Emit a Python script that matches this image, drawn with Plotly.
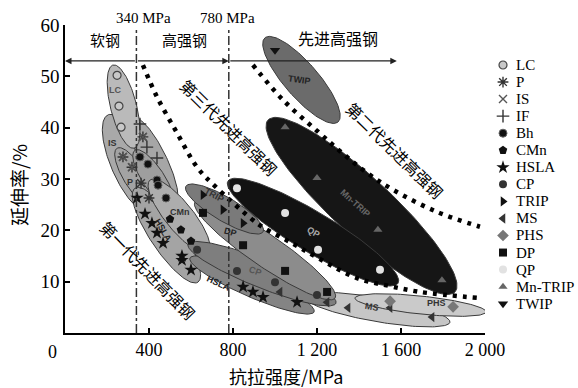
import numpy as np
import plotly.graph_objects as go

# ---------------- data (tensile strength MPa, elongation %) ----------------
lc_x = [248, 257, 267];                 lc_y = [50.2, 44.2, 40.1]
p_x = [276, 319, 362, 400, 371];        p_y = [34.3, 32.3, 29.2, 26.3, 38.2]
is_x = [276, 319, 371];                 is_y = [34.3, 32.3, 38.2]
if_x = [357, 390, 438];                 if_y = [40.7, 36.2, 34.1]
bh_x = [357, 395, 438, 443, 481];       bh_y = [34.3, 32.9, 29.8, 28.8, 26.3]
cmn_x = [500, 552, 600];                cmn_y = [22.2, 20.1, 17.9]
hsla_x = [343, 381, 414, 438, 467, 557, 557, 600, 848, 895, 943, 1105]
hsla_y = [26.3, 23.2, 21.4, 19.5, 17.5, 15.0, 14.2, 12.3, 9.0, 8.0, 7.0, 6.0]
cp_x = [629, 819, 1000, 1200];          cp_y = [16.2, 12.1, 9.9, 7.4]
trip_x = [657, 752, 848];               trip_y = [26.9, 24.0, 21.4]
ms_x = [1024, 1248, 1348, 1548, 1748];  ms_y = [8.0, 6.0, 4.9, 4.9, 3.1]
phs_x = [1548, 1848];                   phs_y = [6.2, 5.1]
dp_x = [657, 848, 1048, 1248];          dp_y = [23.4, 17.1, 12.1, 8.0]
qp_x = [819, 1048, 1205, 1500];         qp_y = [28.2, 23.4, 16.2, 12.3]
mntrip_x = [1048, 1200, 1490, 1795];    mntrip_y = [40.1, 30.2, 20.1, 10.3]
twip_x = [1000];                        twip_y = [55.1]

series_names = ["LC", "P", "IS", "IF", "Bh", "CMn", "HSLA", "CP", "TRIP",
                "MS", "PHS", "DP", "QP", "Mn-TRIP", "TWIP"]

# property envelopes (ellipses): major-axis tips in data units
region_names = ["IS", "P", "IF", "Bh", "HSLA", "CMn", "LC", "MS", "PHS",
                "HSLA", "CP", "DP", "TRIP", "TWIP", "Mn-TRIP", "QP"]
region_x1 = [205, 248, 324, 333, 333, 405, 229, 1143, 1381, 595, 586, 619, 576, 952, 967, 776]
region_y1 = [42.5, 36.0, 41.9, 35.6, 28.2, 29.8, 52.2, 7.0, 6.8, 14.6, 17.3, 25.5, 28.6, 57.5, 41.5, 29.6]
region_x2 = [405, 414, 524, 510, 633, 681, 329, 1833, 2005, 1186, 1290, 1286, 943, 1300, 1857, 1586]
region_y2 = [23.6, 24.9, 24.9, 24.5, 9.9, 15.8, 36.0, 2.1, 4.1, 4.1, 5.8, 6.8, 19.7, 41.1, 8.0, 9.7]

# boundary curves of the steel generations
gen3_low_x = [371, 438, 533, 629, 714, 895, 943, 1081, 1205, 1390, 1540, 1690, 1980]
gen3_low_y = [52.2, 46.0, 39.0, 32.3, 28.6, 22.0, 20.6, 17.5, 14.6, 10.7, 9.2, 8.0, 6.8]
gen2_up_x = [895, 1038, 1205, 1319, 1438, 1562, 1771, 1976]
gen2_up_y = [52.2, 45.4, 39.2, 35.1, 31.2, 27.9, 23.6, 20.7]

limits = [340, 780]
arrow_level = 53
arrow_end = 1580
x_ticks = [400, 800, 1200, 1600, 2000]
x_ticktext = ["400", "800", "1 200", "1 600", "2 000"]
y_ticks = [10, 20, 30, 40, 50, 60]

# ---------------- layout constants ----------------
W, H = 578, 388
PL, PR, PT, PB = 65, 485, 25, 333
XMAX, YMAX = 2000, 60
SERIF = "Liberation Serif, Noto Sans CJK SC"
CJK = "Noto Sans CJK SC, Liberation Serif"
kx = (PR - PL) / XMAX
ky = (PB - PT) / YMAX

region_hw = [18, 11, 13, 11, 16, 14, 13, 12, 9, 12, 14, 16, 12, 17, 29, 20]
region_fill = ["#a9a9a9", "#a3a3a3", "#a6a6a6", "#9e9e9e", "#a4a4a4", "#adadad",
               "#bababa", "#c6c6c6", "#cacaca", "#848484", "#7e7e7e", "#8c8c8c",
               "#7a7a7a", "#6b6b6b", "#161616", "#121212"]

styles = {
    "LC": dict(symbol="circle", size=8, color="#c8c8c8", line=dict(color="#444", width=1.2)),
    "P": dict(symbol="asterisk-open", size=9, color="#333", line=dict(color="#333", width=1.4)),
    "IS": dict(symbol="x-thin-open", size=8, color="#555", line=dict(color="#555", width=1.4)),
    "IF": dict(symbol="cross-thin-open", size=9, color="#333", line=dict(color="#333", width=1.4)),
    "Bh": dict(symbol="circle", size=8, color="#111", line=dict(color="#666", width=1)),
    "CMn": dict(symbol="pentagon", size=9, color="#111", line=dict(width=0)),
    "HSLA": dict(symbol="star", size=10, color="#111", line=dict(width=0)),
    "CP": dict(symbol="circle", size=8, color="#333", line=dict(width=0)),
    "TRIP": dict(symbol="triangle-right", size=9, color="#111", line=dict(width=0)),
    "MS": dict(symbol="triangle-left", size=9, color="#333", line=dict(width=0)),
    "PHS": dict(symbol="diamond", size=9, color="#777", line=dict(width=0)),
    "DP": dict(symbol="square", size=8, color="#111", line=dict(width=0)),
    "QP": dict(symbol="circle", size=8, color="#e2e2e2", line=dict(width=0)),
    "Mn-TRIP": dict(symbol="triangle-up", size=8, color="#666", line=dict(width=0)),
    "TWIP": dict(symbol="triangle-down", size=9, color="#111", line=dict(width=0)),
}
series_data = {
    "LC": (lc_x, lc_y), "P": (p_x, p_y), "IS": (is_x, is_y), "IF": (if_x, if_y),
    "Bh": (bh_x, bh_y), "CMn": (cmn_x, cmn_y), "HSLA": (hsla_x, hsla_y),
    "CP": (cp_x, cp_y), "TRIP": (trip_x, trip_y), "MS": (ms_x, ms_y),
    "PHS": (phs_x, phs_y), "DP": (dp_x, dp_y), "QP": (qp_x, qp_y),
    "Mn-TRIP": (mntrip_x, mntrip_y), "TWIP": (twip_x, twip_y),
}


def ellipse(x1, y1, x2, y2, hw, n=140):
    p1 = np.array([x1 * kx, y1 * ky])
    p2 = np.array([x2 * kx, y2 * ky])
    c = (p1 + p2) / 2
    d = p2 - p1
    a = np.linalg.norm(d) / 2
    u = d / np.linalg.norm(d)
    v = np.array([-u[1], u[0]])
    t = np.linspace(0, 2 * np.pi, n)
    pts = c[None, :] + np.outer(a * np.cos(t), u) + np.outer(hw * np.sin(t), v)
    return pts[:, 0] / kx, pts[:, 1] / ky


fig = go.Figure()

# ellipses
for i, name in enumerate(region_names):
    ex, ey = ellipse(region_x1[i], region_y1[i], region_x2[i], region_y2[i], region_hw[i])
    fig.add_trace(go.Scatter(x=ex, y=ey, mode="lines", fill="toself",
                             fillcolor=region_fill[i],
                             line=dict(color="#3a3a3a", width=1),
                             hoverinfo="skip", name=name, xaxis="x", yaxis="y"))

# generation boundary curves
for cx, cy in [(gen3_low_x, gen3_low_y), (gen2_up_x, gen2_up_y)]:
    fig.add_trace(go.Scatter(x=cx, y=cy, mode="lines",
                             line=dict(color="black", width=4.5, dash="4px,6px", shape="spline"),
                             hoverinfo="skip", xaxis="x", yaxis="y"))

# markers
for name in series_names:
    sx, sy = series_data[name]
    fig.add_trace(go.Scatter(x=sx, y=sy, mode="markers", marker=styles[name],
                             name=name, xaxis="x", yaxis="y", cliponaxis=False))

# custom legend (pixel overlay axis)
LEG_X, LEG_Y0, LEG_DY = 503, 65, 17.05
for i, name in enumerate(series_names):
    fig.add_trace(go.Scatter(x=[LEG_X], y=[LEG_Y0 + i * LEG_DY], mode="markers",
                             marker=styles[name], xaxis="x2", yaxis="y2",
                             hoverinfo="skip", cliponaxis=False))

ann = []


def ptxt(text, px, py, size=15, font=SERIF, angle=0, xanchor="center", color="black"):
    ann.append(dict(text=text, x=px / W, y=1 - py / H, xref="paper", yref="paper",
                    showarrow=False, xanchor=xanchor, yanchor="middle", textangle=angle,
                    font=dict(family=font, size=size, color=color)))


for i, name in enumerate(series_names):
    ptxt(name, 514, LEG_Y0 + i * LEG_DY, size=15, xanchor="left")

ptxt("340 MPa", 143, 18, size=15)
ptxt("780 MPa", 227, 18, size=15)
ptxt("软钢", 105, 40, size=15, font=CJK)
ptxt("高强钢", 184, 40, size=15, font=CJK)
ptxt("先进高强钢", 338, 38, size=16, font=CJK)
ptxt("第三代先进高强钢", 229, 127, size=16, font=CJK, angle=44.5)
ptxt("第二代先进高强钢", 395, 150, size=16, font=CJK, angle=44.5)
ptxt("第一代先进高强钢", 148, 270, size=16, font=CJK, angle=46)
ptxt("0", 52, 352, size=18)
ptxt("抗拉强度/MPa", 286, 376, size=18, font=CJK)
ptxt("延伸率/%", 18, 185, size=19, font=CJK, angle=-90)

# region labels (data coordinates)
region_labels = [("LC", 238, 47.3, 0, "#555"), ("IS", 224, 37.0, 0, "#333"),
                 ("P", 310, 29.4, 0, "#333"), ("CMn", 548, 23.6, 0, "#333"),
                 ("HSLA", 467, 20.1, 60, "#222"), ("TRIP", 710, 26.9, 28, "#333"),
                 ("DP", 786, 19.7, 15, "#222"), ("CP", 905, 12.1, 20, "#555"),
                 ("HSLA", 729, 9.7, 25, "#222"), ("QP", 1181, 19.7, 30, "#aaa"),
                 ("Mn-TRIP", 1381, 25.3, 42, "#666"), ("TWIP", 1119, 49.3, 8, "#222"),
                 ("MS", 1462, 5.1, 10, "#333"), ("PHS", 1771, 5.8, 0, "#333")]
for t, x, y, a, c in region_labels:
    ann.append(dict(text="<b>" + t + "</b>", x=x, y=y, xref="x", yref="y", showarrow=False,
                    textangle=a, font=dict(family="Liberation Sans, Arial", size=9, color=c)))

# arrows of the strength classes
for (xh, xt) in [(0, limits[0]), (limits[1], limits[0]), (arrow_end, limits[1])]:
    ann.append(dict(x=xh, y=arrow_level, ax=xt, ay=arrow_level, xref="x", yref="y",
                    axref="x", ayref="y", text="", showarrow=True, arrowhead=2,
                    arrowsize=1, arrowwidth=1.3, arrowcolor="#222", standoff=0))

shapes = []
for lim in limits:
    shapes.append(dict(type="line", x0=lim, x1=lim, y0=0, y1=59.4, xref="x", yref="y",
                       line=dict(color="#333", width=1.5, dash="dashdot")))

fig.update_layout(
    width=W, height=H, margin=dict(l=0, r=0, t=0, b=0, autoexpand=False),
    paper_bgcolor="white", plot_bgcolor="rgba(0,0,0,0)", showlegend=False,
    annotations=ann, shapes=shapes,
    xaxis=dict(domain=[PL / W, PR / W], range=[0, XMAX], anchor="y",
               tickvals=x_ticks, ticktext=x_ticktext, ticks="inside", ticklen=5,
               tickwidth=1.5, tickcolor="black", showline=True, linecolor="black",
               linewidth=1.5, showgrid=False, zeroline=False,
               tickfont=dict(family=SERIF, size=18, color="black")),
    yaxis=dict(domain=[1 - PB / H, 1 - PT / H], range=[0, YMAX], anchor="x",
               tickvals=y_ticks, ticks="inside", ticklen=5, tickwidth=1.5,
               tickcolor="black", showline=True, linecolor="black", linewidth=1.5,
               showgrid=False, zeroline=False,
               tickfont=dict(family=SERIF, size=19, color="black")),
    xaxis2=dict(domain=[0, 1], range=[0, W], visible=False, anchor="y2", fixedrange=True),
    yaxis2=dict(domain=[0, 1], range=[H, 0], visible=False, anchor="x2", fixedrange=True),
)

fig.write_html("out.html", config={"displayModeBar": False},
               post_script="document.body.style.margin='0';document.body.style.overflow='hidden';")
